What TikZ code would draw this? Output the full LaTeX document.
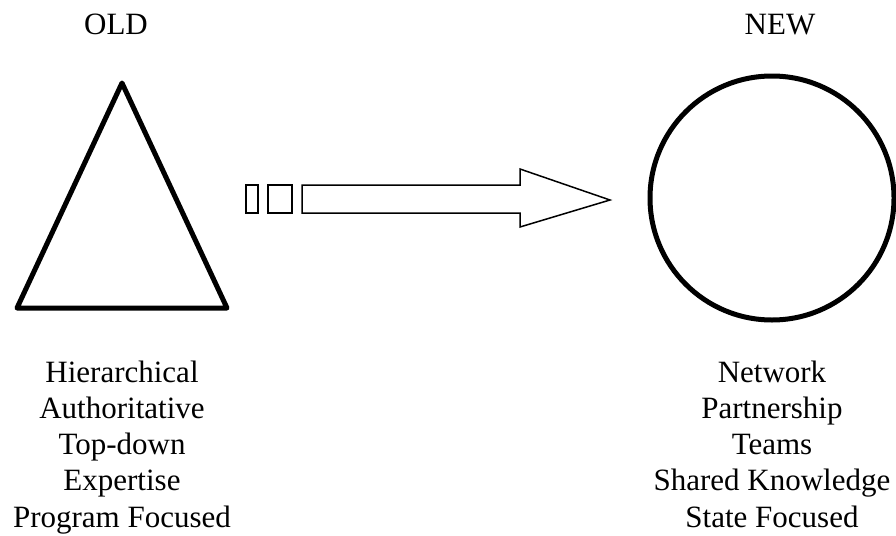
\documentclass[tikz,border=0pt]{standalone}
\usepackage{fontspec}
\setmainfont{Liberation Serif}
\begin{document}
\begin{tikzpicture}[x=1pt,y=-1pt,
  label/.style={font=\fontsize{31}{36.25}\selectfont, align=center, inner sep=0pt, anchor=base},
  heading/.style={font=\fontsize{31}{36}\selectfont, inner sep=0pt, anchor=base},
  bold shape/.style={draw=black, line width=5pt, line join=round},
  thin shape/.style={draw=black, line width=1.5pt, line join=miter}]
  \useasboundingbox (0,0) rectangle (896,535);
  \fill[white] (0,0) rectangle (896,535);

  % headings
  \node[heading] (old) at (116,35) {OLD};
  \node[heading] (new) at (780,35) {NEW};

  % hierarchical model: triangle
  \draw[bold shape] (122,83) -- (227,308) -- (17,308) -- cycle;

  % network model: circle
  \node[bold shape, circle, minimum size=244pt, inner sep=0pt] (circ) at (772,198) {};

  % transition arrow with trailing blocks
  \draw[thin shape] (246,185) rectangle (258,213);
  \draw[thin shape] (268,185) rectangle (292,213);
  \draw[thin shape] (302,185) -- (520,185) -- (520,169) -- (610,200)
        -- (520,227) -- (520,213) -- (302,213) -- cycle;

  % characteristics (anchored at the baseline of the last line)
  \node[label] (oldlist) at (122,527) {Hierarchical\\Authoritative\\Top-down\\Expertise\\Program Focused};
  \node[label] (newlist) at (772,527) {Network\\Partnership\\Teams\\Shared Knowledge\\State Focused};
\end{tikzpicture}
\end{document}
